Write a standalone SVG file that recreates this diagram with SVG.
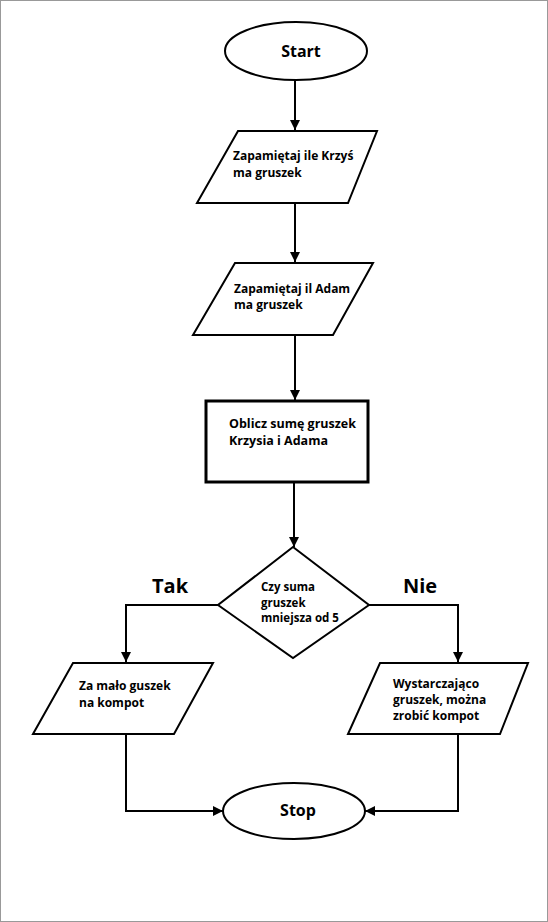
<svg xmlns="http://www.w3.org/2000/svg" width="548" height="922" viewBox="0 0 548 922">
<style>
.s{fill:#fff;stroke:#000;stroke-width:2}
.c{fill:none;stroke:#000;stroke-width:2}
text{font-family:"Open Sans","Noto Sans",sans-serif;font-weight:bold;fill:#000}
.t12{font-size:12px}
.t11{font-size:11.5px}
.t13{font-size:12.5px}
.term{font-size:16px;text-anchor:middle}
.big{font-size:20px}
</style>
<defs>
<marker id="a" markerWidth="10" markerHeight="10" refX="10" refY="5" orient="auto" markerUnits="userSpaceOnUse"><path d="M0,0 L10,5 L0,10 Z" fill="#000"/></marker>
</defs>
<rect x="0.5" y="0.5" width="547" height="921" fill="#fff" stroke="#999" stroke-width="1"/>
<g id="connectors">
<line class="c" x1="295" y1="81" x2="295" y2="130" marker-end="url(#a)"/>
<line class="c" x1="295" y1="203" x2="295" y2="262" marker-end="url(#a)"/>
<line class="c" x1="295" y1="335" x2="295" y2="400" marker-end="url(#a)"/>
<line class="c" x1="294" y1="483" x2="294" y2="547" marker-end="url(#a)"/>
<polyline class="c" points="218,605 126,605 126,662" marker-end="url(#a)"/>
<polyline class="c" points="369,605 458,605 458,662" marker-end="url(#a)"/>
<polyline class="c" points="126,734 126,811 223,811" marker-end="url(#a)"/>
<polyline class="c" points="458,734 458,811 365,811" marker-end="url(#a)"/>
<text class="big" x="152" y="593">Tak</text>
<text class="big" x="403" y="593">Nie</text>
</g>
<g id="start">
<ellipse class="s" cx="296" cy="51" rx="71" ry="29"/>
<text class="term" x="301" y="57">Start</text>
</g>
<g id="input1">
<polygon class="s" points="238,131 377,131 348,203 197,203"/>
<text class="t12" x="233" y="160">Zapamiętaj ile Krzyś</text>
<text class="t12" x="233" y="177">ma gruszek</text>
</g>
<g id="input2">
<polygon class="s" points="235,263 373,263 333,335 193,335"/>
<text class="t12" x="234" y="293">Zapamiętaj il Adam</text>
<text class="t12" x="234" y="309">ma gruszek</text>
</g>
<g id="process">
<rect x="206" y="401" width="162" height="81" fill="#fff" stroke="#000" stroke-width="3"/>
<text class="t13" x="229" y="428">Oblicz sumę gruszek</text>
<text class="t13" x="229" y="445">Krzysia i Adama</text>
</g>
<g id="decision">
<polygon class="s" points="293,547 369,605 293,658 218,605"/>
<text class="t11" x="261" y="591">Czy suma</text>
<text class="t11" x="261" y="607">gruszek</text>
<text class="t11" x="261" y="622">mniejsza od 5</text>
</g>
<g id="out-tak">
<polygon class="s" points="73,663 213,663 174,734 33,734"/>
<text class="t12" x="79" y="690">Za mało guszek</text>
<text class="t12" x="79" y="707">na kompot</text>
</g>
<g id="out-nie">
<polygon class="s" points="380,663 528,663 500,734 348,734"/>
<text class="t12" x="393" y="688">Wystarczająco</text>
<text class="t12" x="393" y="704">gruszek, można</text>
<text class="t12" x="393" y="720">zrobić kompot</text>
</g>
<g id="stop">
<ellipse class="s" cx="294" cy="811" rx="71" ry="28"/>
<text class="term" x="298" y="816">Stop</text>
</g>
</svg>
